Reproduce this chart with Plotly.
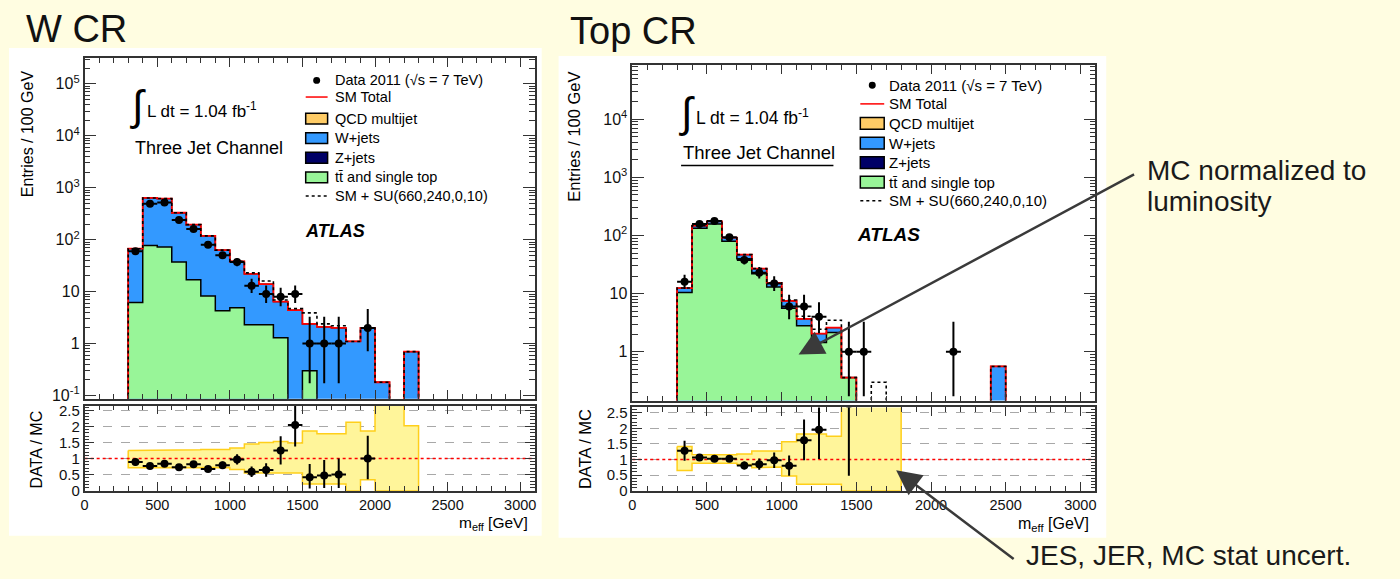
import math
import plotly.graph_objects as go

FONT = "Liberation Sans, Arial, Helvetica, sans-serif"
W, H = 1400, 579

# ---------------- data ----------------
# W control region, bins of 100 GeV starting at these m_eff values
wcr_bins = [300, 400, 500, 600, 700, 800, 900, 1000, 1100, 1200,
            1300, 1400, 1500, 1600, 1700, 1800, 1900, 2000, 2100, 2200]
wcr_data = [60, 490, 520, 240, 160, 80, 50, 37, 13, 9, 8, 9, 1, 1, 1, 0, 2, 0, 0, 0]
wcr_ttbar = [6.2, 77, 72, 37, 17, 8.2, 4.3, 4.9, 2.3, 2.3, 1.3, 0, 0.3, 0, 0, 0, 0, 0, 0, 0]
wcr_wjets = [60.8, 559, 547, 293, 178, 110, 58.7, 33.1, 19.7, 11.7,
             5.1, 4.4, 2.1, 2.1, 2.0, 1.1, 2.0, 0.18, 0, 0.7]
wcr_signal = [0, 0, 0, 0, 0, 0, 0, 0.5, 1.0, 2.0, 0.5, 0.3, 1.5, 0.3, 0.2, 0, 0, 0, 0, 0]
wcr_band_bins = wcr_bins
wcr_band_hi = [1.25, 1.25, 1.25, 1.26, 1.27, 1.28, 1.28, 1.33, 1.45, 1.50,
               1.53, 1.48, 1.86, 1.77, 1.77, 2.13, 1.86, 3.0, 3.0, 2.02]
wcr_band_lo = [0.71, 0.73, 0.73, 0.73, 0.73, 0.72, 0.72, 0.66, 0.55, 0.53,
               0.55, 0.55, 0.21, 0.21, 0.21, 0.0, 0.34, 0.0, 0.0, 0.0]

# Top control region
top_bins = [300, 400, 500, 600, 700, 800, 900, 1000, 1100, 1200, 1300,
            1400, 1500, 1600, 1700, 1800, 1900, 2000, 2100, 2200, 2300, 2400]
top_data = [16, 158, 179, 94, 38, 23, 15, 6, 6, 4, 0, 1, 1, 0, 0, 0, 0, 0, 1, 0, 0, 0]
top_ttbar = [10.5, 134, 158, 80, 40, 22, 13, 5.6, 2.8, 1.45, 2.15, 0.36,
             0, 0, 0, 0, 0, 0, 0, 0, 0, 0]
top_wjets = [2.0, 14, 17, 12, 7, 5, 2.4, 1.9, 0.9, 0.6, 0.45, 0,
             0, 0, 0, 0, 0, 0, 0, 0, 0, 0.56]
top_signal = [0, 0, 0, 0, 0, 0, 0, 0.3, 0.4, 0.4, 0.9, 0, 0, 0.3, 0, 0, 0, 0, 0, 0, 0, 0]
top_band_bins = [300, 400, 500, 600, 700, 800, 900, 1000, 1100, 1200, 1300, 1400, 1500, 1600, 1700]
top_band_hi = [1.42, 1.16, 1.15, 1.15, 1.18, 1.27, 1.27, 1.57, 1.82, 1.82, 1.75, 3.0, 3.0, 3.0, 3.0]
top_band_lo = [0.65, 0.88, 0.89, 0.88, 0.84, 0.74, 0.76, 0.47, 0.21, 0.21, 0.21, 0.0, 0.0, 0.0, 0.0]

BIN_W = 100
x_ticks = [0, 500, 1000, 1500, 2000, 2500, 3000]
left_logticks = [0.1, 1, 10, 100, 1e3, 1e4, 1e5]
left_logtext = ["10<sup>-1</sup>", "1", "10", "10<sup>2</sup>", "10<sup>3</sup>",
                "10<sup>4</sup>", "10<sup>5</sup>"]
right_logticks = [1, 10, 100, 1e3, 1e4]
right_logtext = ["1", "10", "10<sup>2</sup>", "10<sup>3</sup>", "10<sup>4</sup>"]
ratio_ticks = [0, 0.5, 1, 1.5, 2, 2.5]
ratio_text = ["0", "0.5", "1", "1.5", "2", "2.5"]

legend_labels = ["Data 2011 (\u221as = 7 TeV)", "SM Total", "QCD multijet", "W+jets",
                 "Z+jets", "t<span>t\u0304</span> and single top", "SM + SU(660,240,0,10)"]

# ---------------- colours ----------------
C_GREEN = "#98F598"
C_BLUE = "#3399FF"
C_NAVY = "#000066"
C_QCD = "#FFCC66"
C_RED = "#FF0000"
C_BAND = "#FFF59A"
C_BANDEDGE = "#FFCF1A"
BG = "#FFFDE1"
FLOOR = 1e-4


def px(x):
    return x / W


def py(y):
    return 1 - y / H


def steps(bins, vals, floor=FLOOR):
    xs, ys = [bins[0]], [floor]
    for b, v in zip(bins, vals):
        v = v if v > 0 else floor
        xs += [b, b + BIN_W]
        ys += [v, v]
    xs.append(bins[-1] + BIN_W)
    ys.append(floor)
    return xs, ys


def band(bins, lo, hi):
    xs, ys = [], []
    for b, v in zip(bins, hi):
        xs += [b, b + BIN_W]
        ys += [v, v]
    for b, v in zip(reversed(bins), reversed(lo)):
        xs += [b + BIN_W, b]
        ys += [v, v]
    xs.append(xs[0])
    ys.append(ys[0])
    return xs, ys


def garwood(n):
    lo = n * (1 - 1 / (9 * n) - 1 / (3 * math.sqrt(n))) ** 3
    hi = (n + 1) * (1 - 1 / (9 * (n + 1)) + 1 / (3 * math.sqrt(n + 1))) ** 3
    return lo, hi


fig = go.Figure()


def panel(bins, data, ttbar, wjets, signal, bb, blo, bhi, xm, ym, xr, yr):
    total = [a + b for a, b in zip(ttbar, wjets)]
    smsu = [a + b for a, b in zip(total, signal)]
    # W+jets (stacked on top of ttbar)
    x, y = steps(bins, total)
    fig.add_trace(go.Scatter(x=x, y=y, xaxis=xm, yaxis=ym, mode="lines", fill="toself",
                             fillcolor=C_BLUE, line=dict(color="black", width=1.3),
                             hoverinfo="skip"))
    x, y = steps(bins, ttbar)
    fig.add_trace(go.Scatter(x=x, y=y, xaxis=xm, yaxis=ym, mode="lines", fill="toself",
                             fillcolor=C_GREEN, line=dict(color="black", width=1.5),
                             hoverinfo="skip"))
    x, y = steps(bins, total)
    fig.add_trace(go.Scatter(x=x, y=y, xaxis=xm, yaxis=ym, mode="lines",
                             line=dict(color=C_RED, width=1.8), hoverinfo="skip"))
    x, y = steps(bins, smsu)
    fig.add_trace(go.Scatter(x=x, y=y, xaxis=xm, yaxis=ym, mode="lines",
                             line=dict(color="black", width=1.6, dash="dot"), hoverinfo="skip"))
    # data points
    dx, dy, eu, ed = [], [], [], []
    for b, n in zip(bins, data):
        if n > 0:
            lo, hi = garwood(n)
            dx.append(b + BIN_W / 2)
            dy.append(n)
            eu.append(hi - n)
            ed.append(n - lo)
    fig.add_trace(go.Scatter(x=dx, y=dy, xaxis=xm, yaxis=ym, mode="markers",
                             marker=dict(color="black", size=8),
                             error_y=dict(type="data", array=eu, arrayminus=ed, symmetric=False,
                                          color="black", thickness=2, width=0),
                             error_x=dict(type="constant", value=BIN_W / 2, color="black",
                                          thickness=2, width=0)))
    # ratio band
    x, y = band(bb, blo, bhi)
    fig.add_trace(go.Scatter(x=x, y=y, xaxis=xr, yaxis=yr, mode="lines", fill="toself",
                             fillcolor=C_BAND, line=dict(color=C_BANDEDGE, width=1.5),
                             hoverinfo="skip"))
    fig.add_trace(go.Scatter(x=[0, 3100], y=[1, 1], xaxis=xr, yaxis=yr, mode="lines",
                             line=dict(color=C_RED, width=1.5, dash="dot"), hoverinfo="skip"))
    rx, ry, ru, rd = [], [], [], []
    for b, n, t in zip(bins, data, total):
        if n > 0 and t > 0:
            lo, hi = garwood(n)
            rx.append(b + BIN_W / 2)
            ry.append(n / t)
            ru.append(math.sqrt(n) / t)
            rd.append((n - lo) / t)
    fig.add_trace(go.Scatter(x=rx, y=ry, xaxis=xr, yaxis=yr, mode="markers",
                             marker=dict(color="black", size=8),
                             error_y=dict(type="data", array=ru, arrayminus=rd, symmetric=False,
                                          color="black", thickness=2, width=0),
                             error_x=dict(type="constant", value=BIN_W / 2, color="black",
                                          thickness=2, width=0)))


panel(wcr_bins, wcr_data, wcr_ttbar, wcr_wjets, wcr_signal,
      wcr_band_bins, wcr_band_lo, wcr_band_hi, "x", "y", "x2", "y2")
panel(top_bins, top_data, top_ttbar, top_wjets, top_signal,
      top_band_bins, top_band_lo, top_band_hi, "x3", "y3", "x4", "y4")

AX = "#333333"


def xaxis(dom, anchor, labels):
    return dict(domain=dom, anchor=anchor, range=[0, 3100], showline=True, mirror="allticks",
                linecolor=AX, linewidth=1.6, ticks="inside", ticklen=9, tickwidth=1.2,
                tickcolor=AX, tickmode="array", tickvals=x_ticks,
                ticktext=[str(v) for v in x_ticks],
                minor=dict(ticks="inside", ticklen=5, dtick=100, tick0=0, tickcolor=AX,
                           tickwidth=1),
                showgrid=False, zeroline=False, showticklabels=labels,
                tickfont=dict(family=FONT, size=14.5, color="#111"))


def minor_log(lo, hi):
    out = []
    for d in range(lo, hi + 1):
        for k in range(2, 10):
            out.append(k * 10 ** d)
    return out


def ylog(dom, anchor, rng, tv, tt):
    return dict(domain=dom, anchor=anchor, type="log", range=rng, showline=True,
                mirror="allticks", linecolor=AX, linewidth=1.6, ticks="inside", ticklen=12,
                tickwidth=1.2, tickcolor=AX, tickmode="array", tickvals=tv, ticktext=tt,
                minor=dict(ticks="inside", ticklen=6, tickmode="array",
                           tickvals=minor_log(-2, 5), tickcolor=AX, tickwidth=1),
                showgrid=False, zeroline=False,
                tickfont=dict(family=FONT, size=16, color="#111"))


def yratio(dom, anchor, top):
    return dict(domain=dom, anchor=anchor, range=[0, top], showline=True, mirror="allticks",
                linecolor=AX, linewidth=1.6, ticks="inside", ticklen=10, tickwidth=1.2,
                tickcolor=AX, tickmode="array", tickvals=ratio_ticks, ticktext=ratio_text,
                minor=dict(ticks="inside", ticklen=5, dtick=0.1, tick0=0, tickcolor=AX,
                           tickwidth=1),
                showgrid=True, gridcolor="#A8A8A8", griddash="dash", gridwidth=1,
                zeroline=False, tickfont=dict(family=FONT, size=15, color="#111"))


fig.update_layout(
    width=W, height=H, margin=dict(l=0, r=0, t=0, b=0), showlegend=False,
    paper_bgcolor=BG, plot_bgcolor="white",
    xaxis=xaxis([px(81), px(533)], "y", False),
    yaxis=ylog([py(403), py(55)], "x", [-1.06, 5.5], left_logticks, left_logtext),
    xaxis2=xaxis([px(81), px(533)], "y2", True),
    yaxis2=yratio([py(497), py(410)], "x2", 2.65),
    xaxis3=xaxis([px(631), px(1096)], "y3", False),
    yaxis3=ylog([py(405), py(62)], "x3", [-0.84, 4.94], right_logticks, right_logtext),
    xaxis4=xaxis([px(631), px(1096)], "y4", True),
    yaxis4=yratio([py(497), py(412)], "x4", 2.67),
)

shapes = []
# white panels behind each figure
shapes.append(dict(type="rect", xref="paper", yref="paper", x0=px(5), x1=px(540),
                   y0=py(543), y1=py(45), fillcolor="white", line=dict(width=0), layer="below"))
shapes.append(dict(type="rect", xref="paper", yref="paper", x0=px(557), x1=px(1107),
                   y0=py(545), y1=py(53), fillcolor="white", line=dict(width=0), layer="below"))

ann = []


def text(x, y, s, size, xanchor="left", color="#000", angle=0, yanchor="middle"):
    ann.append(dict(x=px(x), y=py(y), xref="paper", yref="paper", text=s, showarrow=False,
                    xanchor=xanchor, yanchor=yanchor, textangle=angle,
                    font=dict(family=FONT, size=size, color=color)))


def legend(x0, x1, xt, rows, size, bh):
    xc = (x0 + x1) / 2
    # data bullet
    shapes.append(dict(type="circle", xref="paper", yref="paper", x0=px(xc - 3.5),
                       x1=px(xc + 3.5), y0=py(rows[0] + 3.5), y1=py(rows[0] - 3.5),
                       fillcolor="black", line=dict(width=0)))
    shapes.append(dict(type="line", xref="paper", yref="paper", x0=px(x0), x1=px(x1),
                       y0=py(rows[1]), y1=py(rows[1]), line=dict(color=C_RED, width=1.5)))
    for r, c in zip(rows[2:6], [C_QCD, C_BLUE, C_NAVY, C_GREEN]):
        shapes.append(dict(type="rect", xref="paper", yref="paper", x0=px(x0), x1=px(x1),
                           y0=py(r + bh / 2), y1=py(r - bh / 2), fillcolor=c,
                           line=dict(color="black", width=1.5)))
    shapes.append(dict(type="line", xref="paper", yref="paper", x0=px(x0), x1=px(x1),
                       y0=py(rows[6]), y1=py(rows[6]),
                       line=dict(color="black", width=1.5, dash="dot")))
    for r, s in zip(rows, legend_labels):
        text(xt, r, s, size)


legend(303, 325, 330, [78, 95, 117, 137, 157, 177, 196], 14.5, 11)
legend(860, 884, 887, [83, 102, 122, 142, 162, 182, 201], 15, 12)

# titles
text(20, 26, "W CR", 38, color="#111")
text(566, 28, "Top CR", 38, color="#111")

# in-plot labels
text(125, 104, "\u222b", 42)
text(142, 108, "L dt = 1.04 fb<sup>-1</sup>", 17)
text(130, 147, "Three Jet Channel", 18)
text(300, 232, "<b><i>ATLAS</i></b>", 18)
text(676, 111, "\u222b", 42)
text(693, 115, "L dt = 1.04 fb<sup>-1</sup>", 17.5)
text(680, 152, "Three Jet Channel", 18.5)
shapes.append(dict(type="line", xref="paper", yref="paper", x0=px(680), x1=px(833),
                   y0=py(165), y1=py(165), line=dict(color="black", width=1.5)))
text(855, 235, "<b><i>ATLAS</i></b>", 19)

# axis titles
text(23, 132, "Entries / 100 GeV", 16, xanchor="center", angle=-90)
text(573, 136, "Entries / 100 GeV", 16.5, xanchor="center", angle=-90)
text(33, 455, "DATA / MC", 16, xanchor="center", angle=-90)
text(583, 455, "DATA / MC", 16.5, xanchor="center", angle=-90)
text(528, 531, "m<sub>eff</sub> [GeV]", 15.5, xanchor="right")
text(1092, 532, "m<sub>eff</sub> [GeV]", 16, xanchor="right")

# slide call-outs
text(1146, 170, "MC normalized to", 28, color="#1a1a1a")
text(1146, 202, "luminosity", 28, color="#1a1a1a")
text(1024, 563, "JES, JER, MC stat uncert.", 28, color="#1a1a1a")

for tip, tail in [((798, 358), (1135, 177)), ((896, 476), (1015, 566))]:
    ann.append(dict(x=px(tip[0]), y=py(tip[1]), xref="paper", yref="paper", text="",
                    showarrow=True, ax=tail[0] - tip[0], ay=tail[1] - tip[1],
                    arrowhead=2, arrowsize=2, arrowwidth=2.5, arrowcolor="#3a3a3a",
                    standoff=0))

fig.update_layout(shapes=shapes, annotations=ann)
fig.write_html("out.html")
